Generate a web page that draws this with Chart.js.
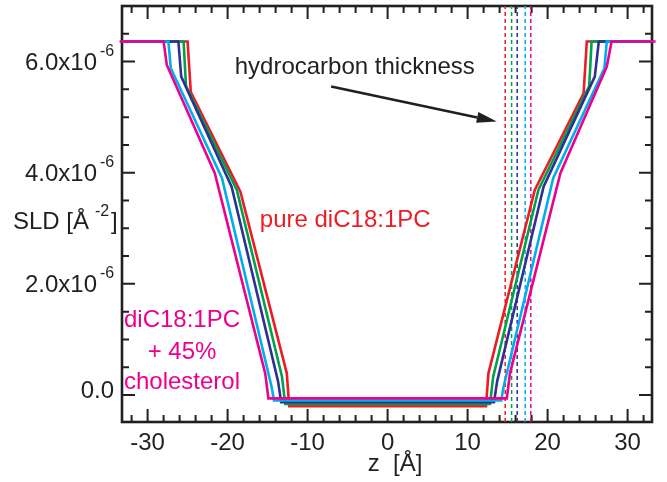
<!DOCTYPE html>
<html>
<head>
<meta charset="utf-8">
<script src="https://cdn.jsdelivr.net/npm/chart.js@4.4.1/dist/chart.umd.min.js"></script>
<style>
  html, body { margin: 0; padding: 0; background: #fff; }
</style>
</head>
<body>
<canvas id="myChart" width="667" height="482"></canvas>
<script>
// data block -- z in Angstrom, SLD in units of 1e-6 A^-2
const zTicks = [-30, -20, -10, 0, 10, 20, 30];
const sldTicks = [0, 2, 4, 6];
const sldTickLabels = ['0.0', '2.0x10', '4.0x10', '6.0x10'];

const zRed = [-34, -25.0, -24.6, -18.4, -12.6, -12.3, 12.3, 12.6, 18.4, 24.5, 24.9, 34];
const sldRed = [6.36, 6.36, 5.45, 3.66, 0.39, -0.20, -0.20, 0.39, 3.69, 5.43, 6.36, 6.36];

const zGreen = [-34, -25.5, -25.2, -18.85, -13.2, -12.8, 12.8, 13.2, 18.85, 25.2, 25.5, 34];
const sldGreen = [6.36, 6.36, 5.56, 3.69, 0.33, -0.16, -0.16, 0.33, 3.69, 5.56, 6.36, 6.36];

const zNavy = [-34, -26.15, -25.8, -19.5, -13.7, -13.3, 13.3, 13.7, 19.5, 25.9, 26.4, 34];
const sldNavy = [6.36, 6.36, 5.73, 3.75, 0.25, -0.13, -0.13, 0.25, 3.75, 5.73, 6.36, 6.36];

const zCyan = [-34, -27.4, -27.1, -20.7, -14.5, -14.2, 14.2, 14.5, 20.7, 27.1, 27.4, 34];
const sldCyan = [6.36, 6.36, 5.88, 3.90, 0.15, -0.10, -0.10, 0.15, 3.90, 5.88, 6.36, 6.36];

const zMagenta = [-33.5, -28.0, -27.6, -21.6, -15.3, -14.9, 14.9, 15.3, 21.6, 27.4, 28.0, 33.5];
const sldMagenta = [6.36, 6.36, 5.94, 3.99, 0.39, -0.06, -0.06, 0.39, 3.99, 5.91, 6.36, 6.36];

// hydrocarbon thickness markers (red, green, navy, cyan, magenta)
const zThickness = [14.7, 15.5, 16.2, 17.2, 17.9];

const colors = ['#ec1c24', '#00a14b', '#2e3192', '#00aeef', '#ec008c'];

const Y_MIN = -0.486, Y_MAX = 7.0;

const pts = (xs, ys) => xs.map((v, i) => ({ x: v, y: ys[i] }));

const curves = [
    [zRed, sldRed], [zGreen, sldGreen], [zNavy, sldNavy], [zCyan, sldCyan], [zMagenta, sldMagenta]
].map((c, i) => ({
    data: pts(c[0], c[1]),
    borderColor: colors[i],
    borderWidth: 2.6,
    pointRadius: 0,
    tension: 0,
    order: 5 - i,
    clip: i === 4 ? false : undefined
}));

const dashes = zThickness.map((z, i) => ({
    data: [{ x: z, y: Y_MIN }, { x: z, y: Y_MAX }],
    borderColor: colors[i],
    borderWidth: 1.5,
    borderDash: [4, 3],
    pointRadius: 0,
    order: 10
}));

const FONT = '"Liberation Sans", Arial, Helvetica, sans-serif';
const TXT = '#231f20';

// frame, inside ticks, labels and annotations
const decor = {
    id: 'decor',
    beforeDatasetsDraw(chart) {
        const { ctx, chartArea: a, scales: { x, y } } = chart;
        ctx.save();
        ctx.strokeStyle = TXT;
        ctx.lineWidth = 2;
        ctx.beginPath();
        for (let v = -32; v <= 32; v += 2) {
            const px = x.getPixelForValue(v);
            const len = v % 10 === 0 ? 13 : 7;
            ctx.moveTo(px, a.bottom); ctx.lineTo(px, a.bottom - len);
            ctx.moveTo(px, a.top); ctx.lineTo(px, a.top + len);
        }
        for (let v = 0; v < 7; v += 0.5) {
            const py = y.getPixelForValue(v);
            const len = v % 2 === 0 ? 13 : 7;
            ctx.moveTo(a.left, py); ctx.lineTo(a.left + len, py);
            ctx.moveTo(a.right, py); ctx.lineTo(a.right - len, py);
        }
        ctx.stroke();
        ctx.lineWidth = 2.6;
        ctx.strokeRect(a.left, a.top, a.right - a.left, a.bottom - a.top);

        // tick labels
        ctx.fillStyle = TXT;
        ctx.font = '24px ' + FONT;
        ctx.textAlign = 'center';
        ctx.textBaseline = 'middle';
        zTicks.forEach(v => ctx.fillText(String(v).replace('-', '-'), x.getPixelForValue(v), a.bottom + 21));

        sldTicks.forEach((v, i) => {
            const py = y.getPixelForValue(v);
            ctx.font = '24px ' + FONT;
            ctx.textAlign = 'right';
            if (v === 0) {
                ctx.fillText(sldTickLabels[i], 114, py - 3.5);
            } else {
                ctx.fillText(sldTickLabels[i], 97, py + 1.5);
                ctx.font = '16px ' + FONT;
                ctx.textAlign = 'left';
                ctx.fillText('-6', 100, py - 10);
            }
        });

        // axis titles
        ctx.font = '24px ' + FONT;
        ctx.textAlign = 'left';
        ctx.fillText('SLD [Å', 13, 222);
        ctx.font = '16px ' + FONT;
        ctx.fillText('-2', 95, 212);
        ctx.font = '24px ' + FONT;
        ctx.fillText(']', 111, 222);
        ctx.textAlign = 'center';
        ctx.fillText('z  [Å]', 395, 464);
        ctx.restore();
    },
    afterDatasetsDraw(chart) {
        const { ctx, scales: { x, y } } = chart;
        ctx.save();
        ctx.textAlign = 'center';
        ctx.textBaseline = 'middle';
        ctx.font = '24px ' + FONT;
        ctx.fillStyle = TXT;
        ctx.fillText('hydrocarbon thickness', x.getPixelForValue(-4.1), y.getPixelForValue(5.89));

        // arrow
        const x0 = x.getPixelForValue(-7.06), y0 = y.getPixelForValue(5.55);
        const x1 = x.getPixelForValue(13.65), y1 = y.getPixelForValue(4.92);
        const ang = Math.atan2(y1 - y0, x1 - x0);
        const hl = 20, hw = 5.5;
        ctx.strokeStyle = TXT;
        ctx.lineWidth = 2.6;
        ctx.beginPath();
        ctx.moveTo(x0, y0);
        ctx.lineTo(x1 - hl * Math.cos(ang), y1 - hl * Math.sin(ang));
        ctx.stroke();
        ctx.beginPath();
        ctx.moveTo(x1, y1);
        ctx.lineTo(x1 - hl * Math.cos(ang) + hw * Math.sin(ang), y1 - hl * Math.sin(ang) - hw * Math.cos(ang));
        ctx.lineTo(x1 - hl * Math.cos(ang) - hw * Math.sin(ang), y1 - hl * Math.sin(ang) + hw * Math.cos(ang));
        ctx.closePath();
        ctx.fill();

        ctx.fillStyle = colors[0];
        ctx.fillText('pure diC18:1PC', x.getPixelForValue(-5.3), y.getPixelForValue(3.15));

        ctx.fillStyle = colors[4];
        const cx = x.getPixelForValue(-25.7);
        ctx.fillText('diC18:1PC', cx, y.getPixelForValue(1.35));
        ctx.fillText('+ 45%', cx, y.getPixelForValue(0.76));
        ctx.fillText('cholesterol', cx, y.getPixelForValue(0.22));
        ctx.restore();
    }
};

// config block
const config = {
    type: 'line',
    data: { datasets: curves.concat(dashes) },
    options: {
        responsive: false,
        animation: false,
        layout: { padding: { left: 122, right: 15, top: 6, bottom: 60 } },
        plugins: { legend: { display: false }, tooltip: { enabled: false } },
        scales: {
            x: { type: 'linear', min: -33.2, max: 33.05, display: false },
            y: { type: 'linear', min: Y_MIN, max: Y_MAX, display: false }
        }
    },
    plugins: [decor]
};

const ctx = document.getElementById('myChart');
const myChart = new Chart(ctx, config);
</script>
</body>
</html>
